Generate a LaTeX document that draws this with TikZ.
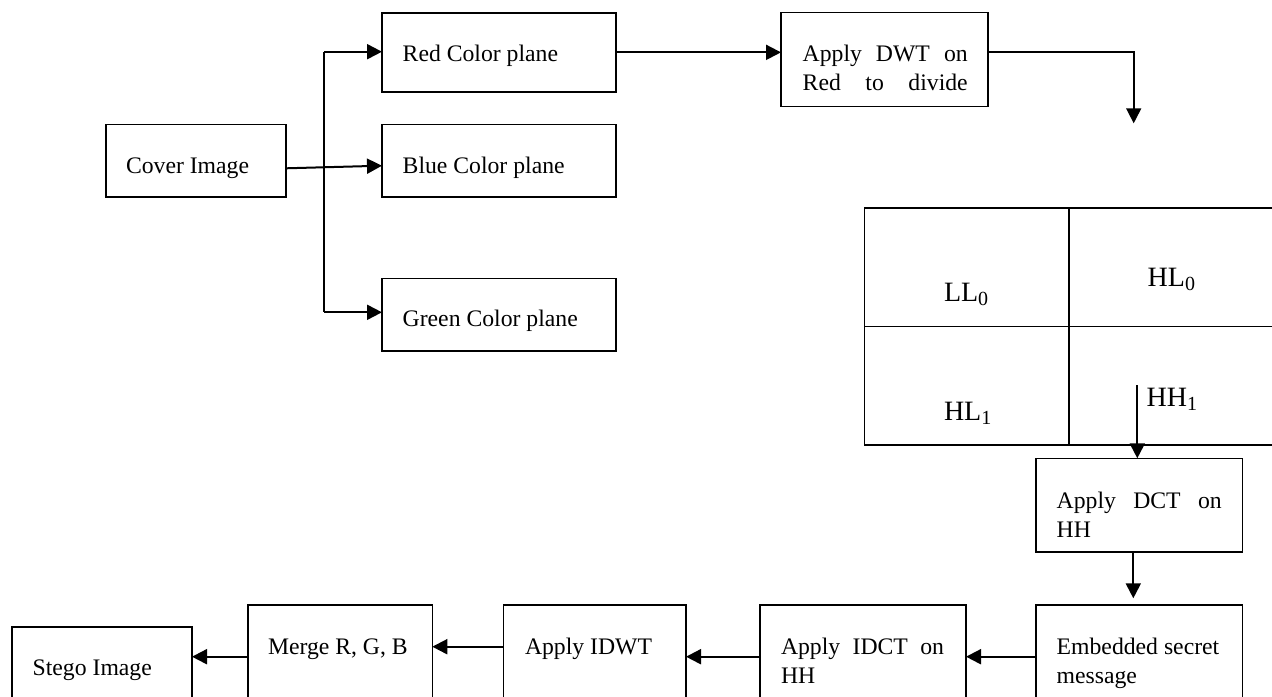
\documentclass[tikz,border=0pt]{standalone}
\usepackage{fontspec}
\setmainfont{Liberation Serif}
\usetikzlibrary{arrows.meta,calc}
\begin{document}
\begin{tikzpicture}[x=0.5pt,y=-0.5pt,
  box/.style={draw, line width=0.8pt, inner sep=0pt, outer sep=0pt, anchor=north west},
  arr/.style={line width=1pt, -{Triangle[length=7.5pt 0, width=7.5pt 0]}},
  plain/.style={line width=1pt},
  lbl/.style={inner sep=0pt, outer sep=0pt, anchor=base west, font=\fontsize{11.85}{14}\selectfont},
  cell/.style={inner sep=0pt, outer sep=0pt, anchor=base west, font=\fontsize{14}{16}\selectfont}]
\useasboundingbox (0,0) rectangle (1272,696);
\clip (0,0) rectangle (1272,696);
\newcommand{\sbs}[1]{\raisebox{-2pt}{\fontsize{10}{12}\selectfont #1}}

% boxes
\node[box, minimum width=90pt, minimum height=36.2pt] (cover) at (106,124.3) {};
\node[box, minimum width=117pt, minimum height=39.65pt] (red) at (382,12.7) {};
\node[box, minimum width=117pt, minimum height=36.2pt] (blue) at (382,124.3) {};
\node[box, minimum width=117pt, minimum height=36.2pt] (green) at (382,278.3) {};
\node[box, minimum width=103.5pt, minimum height=47.1pt] (dwt) at (781,12.3) {};
\node[box, minimum width=102.25pt, minimum height=59.4pt] (ll) at (864.5,207.7) {};
\node[box, minimum width=105pt, minimum height=59.4pt] (hl0) at (1069,207.7) {};
\node[box, minimum width=102.25pt, minimum height=59.25pt] (hl1) at (864.5,326.5) {};
\node[box, minimum width=105pt, minimum height=59.25pt] (hh) at (1069,326.5) {};
\node[box, minimum width=103.3pt, minimum height=46.7pt] (dct) at (1035.7,458.3) {};
\node[box, minimum width=103.3pt, minimum height=57.65pt] (emb) at (1035.7,604.7) {};
\node[box, minimum width=103pt, minimum height=57.65pt] (idct) at (760,604.7) {};
\node[box, minimum width=91.35pt, minimum height=57.65pt] (idwt) at (503.3,604.7) {};
\node[box, minimum width=92.3pt, minimum height=57.65pt] (merge) at (247.7,604.7) {};
\node[box, minimum width=90.15pt, minimum height=46.65pt] (stego) at (11.7,626.7) {};

% texts
\node[lbl] (tcover) at (126,173.3) {Cover Image};
\node[lbl] (tred) at (402.7,61.7) {Red Color plane};
\node[lbl] (tblue) at (402.7,173.3) {Blue Color plane};
\node[lbl] (tgreen) at (402.7,326.7) {Green Color plane};
\node[lbl] (tdwt1) at (802.7,61.7) {\makebox[82.5pt][s]{Apply DWT on}};
\node[lbl] (tdwt2) at (802.7,90.7) {\makebox[82.5pt][s]{Red to divide}};
\node[cell] (tll) at (944,301.7) {LL\sbs{0}};
\node[cell] (thl0) at (1147.7,286.7) {HL\sbs{0}};
\node[cell] (thl1) at (944,420.7) {HL\sbs{1}};
\node[cell] (thh1) at (1146.7,406.7) {HH\sbs{1}};
\node[lbl] (tdct1) at (1056.7,508.3) {\makebox[82.5pt][s]{Apply DCT on}};
\node[lbl] (tdct2) at (1056.7,537.3) {HH};
\node[lbl] (temb1) at (1056.7,654.3) {Embedded secret};
\node[lbl] (temb2) at (1056.7,683.3) {message};
\node[lbl] (tidct1) at (781,654.3) {\makebox[81.5pt][s]{Apply IDCT on}};
\node[lbl] (tidct2) at (781,683.3) {HH};
\node[lbl] (tidwt) at (525,654.3) {Apply IDWT};
\node[lbl] (tmerge) at (268,654.3) {Merge R, G, B};
\node[lbl] (tstego) at (32.7,675.7) {Stego Image};

% connectors
\coordinate (br) at (324.3,51.7);
\coordinate (bg) at (324.3,312.3);
\draw[plain] (br) -- (bg);
\draw[arr] (br) -- (br -| red.west);
\draw[arr] (bg) -- (bg -| green.west);
\draw[arr] ($(cover.east)+(0,7.8)$) -- ($(blue.west)+(0,5.2)$);
\draw[arr] (red.east) -- (red.east -| dwt.west);
\coordinate (dwtturn) at (1133.7,51.7);
\coordinate (dwtend) at (1133.7,123.3);
\draw[arr, line width=0.8pt] (dwtturn -| dwt.east) -- (dwtturn) -- (dwtend);
\coordinate (hhs) at (1137.3,385);
\draw[arr] (hhs) -- (hhs |- dct.north);
\coordinate (ce) at (1133.3,598.3);
\draw[arr] (ce |- dct.south) -- (ce);
\coordinate (r1) at (0,656.7);
\coordinate (r2) at (0,646.7);
\draw[arr] (r1 -| emb.west) -- (r1 -| idct.east);
\draw[arr] (r1 -| idct.west) -- (r1 -| idwt.east);
\draw[arr] (r2 -| idwt.west) -- (r2 -| merge.east);
\draw[arr] (r1 -| merge.west) -- (r1 -| stego.east);
\end{tikzpicture}
\end{document}
